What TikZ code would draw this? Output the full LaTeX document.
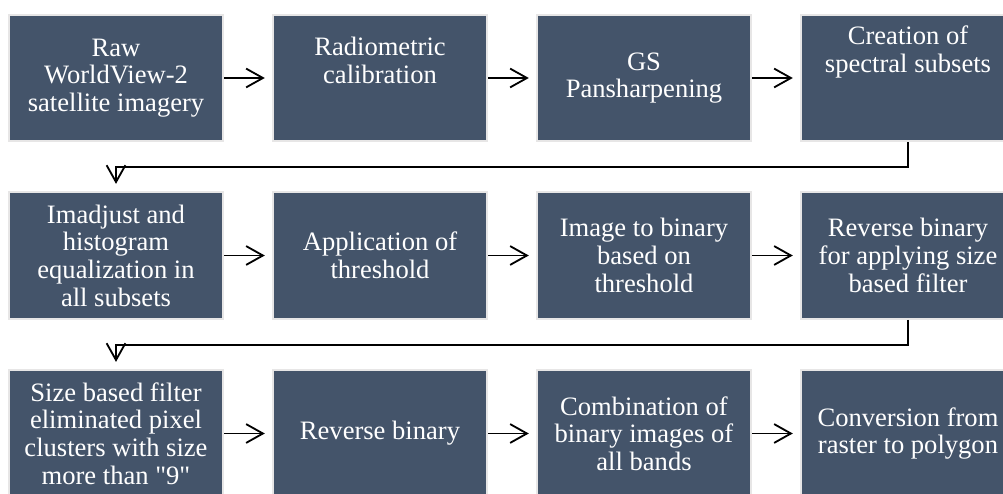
\documentclass[tikz,border=0pt]{standalone}
\usepackage{fontspec}
\setmainfont{Liberation Serif}[Ligatures=TeXOff]
\usetikzlibrary{arrows.meta}
\definecolor{slate}{HTML}{44546A}
\definecolor{rim}{HTML}{E7E6E6}
\tikzset{
	stage/.style={rectangle,fill=slate,draw=rim,line width=1.4pt,minimum width=5.35cm,minimum height=3.17cm,inner sep=2pt,align=center,text=white,font=\fontsize{18.9}{19.7}\selectfont},
	flow/.style={draw,line width=1.3pt,-{Straight Barb[length=0.42cm,width=0.47cm]},shorten >=0.18cm}
}

\begin{document}
\begin{tikzpicture}[x=0.025cm,y=0.025cm]
	\useasboundingbox (0,0) rectangle (1003,493);
	\clip (0,0) rectangle (1003,493);

	% first row
	\node [stage] (raw) at (116,415) {Raw\\WorldView-2\\satellite imagery};
	\node [stage,text depth=0.9cm] (radio) at (380,415) {Radiometric\\calibration};
	\node [stage] (gs) at (644,415) {GS\\Pansharpening};
	\node [stage,text depth=1.45cm] (subsets) at (908,415) {Creation of\\spectral subsets};

	% second row
	\node [stage] (adjust) at (116,237.5) {Imadjust and\\histogram\\equalization in\\all subsets};
	\node [stage] (thresh) at (380,237.5) {Application of\\threshold};
	\node [stage] (binary) at (644,237.5) {Image to binary\\based on\\threshold};
	\node [stage] (revsize) at (908,237.5) {Reverse binary\\for applying size\\based filter};

	% third row
	\node [stage] (sizefilter) at (116,59.5) {Size based filter\\eliminated pixel\\clusters with size\\more than "9"};
	\node [stage] (reverse) at (380,59.5) {Reverse binary};
	\node [stage] (combine) at (644,59.5) {Combination of\\binary images of\\all bands};
	\node [stage] (polygon) at (908,59.5) {Conversion from\\raster to polygon};

	\draw [flow] (raw) -- (radio);
	\draw [flow] (radio) -- (gs);
	\draw [flow] (gs) -- (subsets);
	\draw [flow] (subsets.south) -- ++(0,-25) -| (adjust.north);

	\draw [flow] (adjust) -- (thresh);
	\draw [flow] (thresh) -- (binary);
	\draw [flow] (binary) -- (revsize);
	\draw [flow] (revsize.south) -- ++(0,-25) -| (sizefilter.north);

	\draw [flow] (sizefilter) -- (reverse);
	\draw [flow] (reverse) -- (combine);
	\draw [flow] (combine) -- (polygon);
\end{tikzpicture}
\end{document}
